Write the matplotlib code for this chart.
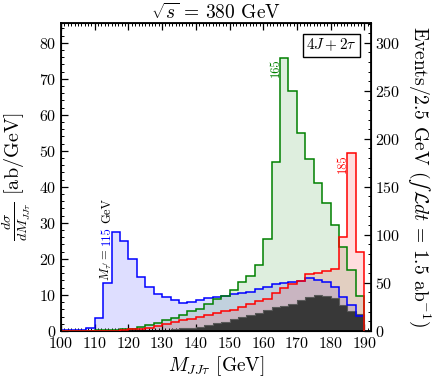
import numpy as np
import matplotlib
matplotlib.use("Agg")
import matplotlib.pyplot as plt
from matplotlib.ticker import MultipleLocator

plt.rcParams['font.family'] = 'cmr10'
plt.rcParams['mathtext.fontset'] = 'cm'
plt.rcParams['axes.formatter.use_mathtext'] = True

# bin edges, 2.5 GeV wide
edges = np.arange(100, 190.01, 2.5)

# dsigma/dM in ab/GeV, one value per bin (100 -> 190)
bkg = [0, 0, 0, 0, 0, 0, 0, 0.05, 0.1, 0.15, 0.2, 0.2,
       0.3, 0.5, 0.7, 0.9, 1.2, 1.6, 2.1, 2.5, 3.2, 3.8, 4.4, 5.1,
       5.7, 6.6, 7.0, 7.5, 8.6, 9.5, 10.0, 9.8, 9.0, 7.2, 5.5, 4.8]
sig115 = [0.3, 0.3, 0.3, 0.8, 3.5, 13.3, 27.5, 25.0, 20.0, 15.0, 12.3, 10.2,
          9.4, 8.5, 7.7, 7.9, 8.6, 9.1, 9.4, 9.6, 10.2, 10.6, 10.9, 11.6,
          12.3, 13.1, 13.2, 13.7, 13.8, 14.6, 14.2, 13.7, 12.1, 9.5, 7.2, 4.2]
sig165 = [0, 0, 0, 0, 0.2, 0.3, 0.3, 0.4, 0.6, 1.0, 1.7, 2.3,
          2.9, 3.5, 4.4, 5.4, 6.0, 7.5, 8.9, 9.8, 11.4, 13.5, 15.3, 18.3,
          25.6, 47.0, 75.8, 66.7, 54.9, 47.7, 41.0, 35.5, 29.4, 23.4, 16.8, 9.7]
sig185 = [0, 0, 0, 0, 0, 0, 0, 0.2, 0.4, 0.6, 0.9, 1.4,
          2.0, 2.4, 2.9, 3.3, 3.9, 4.4, 4.9, 5.4, 5.9, 6.7, 7.4, 8.2,
          8.9, 10.5, 12.0, 13.0, 13.9, 15.8, 16.2, 16.6, 17.1, 26.2, 49.3, 22.0]

ymax = 85.5
events_per_ab = 2.5 * 1.5  # Events/2.5 GeV for 1.5 ab^-1

fig = plt.figure(figsize=(4.36, 3.83), dpi=100)
ax = fig.add_axes([0.14, 0.136, 0.711, 0.804])

signals = [(sig115, 'blue'), (sig165, 'green'), (sig185, 'red')]
for vals, col in signals:
    ax.stairs(vals, edges, fill=True, color=col, alpha=0.13, lw=0, zorder=1)
ax.stairs(bkg, edges, fill=True, color='#383838', zorder=2)
ax.stairs(bkg, edges, color='#5a5a5a', lw=0.8, zorder=2.5)
for vals, col in signals:
    ax.stairs(vals, edges, color=col, lw=1.1, zorder=3)

ax.set_xlim(100, 192)
ax.set_ylim(0, ymax)
ax.xaxis.set_major_locator(MultipleLocator(10))
ax.xaxis.set_minor_locator(MultipleLocator(1))
ax.yaxis.set_major_locator(MultipleLocator(10))
ax.yaxis.set_minor_locator(MultipleLocator(2))
ax.tick_params(which='both', direction='in', top=True, right=False, labelsize=11.5)
ax.tick_params(which='major', length=5, width=0.9)
ax.tick_params(which='minor', length=2.5, width=0.7)
ax.tick_params(axis='x', pad=4)
for s in ax.spines.values():
    s.set_linewidth(1.3)

ax2 = ax.twinx()
ax2.set_ylim(0, ymax * events_per_ab)
ax2.yaxis.set_major_locator(MultipleLocator(50))
ax2.yaxis.set_minor_locator(MultipleLocator(10))
ax2.tick_params(which='both', direction='in', labelsize=11.5, pad=3)
ax2.tick_params(which='major', length=5, width=0.9)
ax2.tick_params(which='minor', length=2.5, width=0.7)

ax.set_xlabel(r'$M_{JJ\tau}$ [GeV]', fontsize=14, labelpad=2)
ax.set_ylabel(r'$\frac{d\sigma}{dM_{JJ\tau}}$ [ab/GeV]', fontsize=14.5, labelpad=4)
ax2.set_ylabel(r'Events/2.5 GeV $(∫\, \mathcal{L}dt$ = 1.5 ab$^{-1})$',
               fontsize=14, rotation=270, va='bottom', labelpad=3)
ax.set_title(r'$\sqrt{s}$ = 380 GeV', fontsize=14, pad=3)

ax.text(0.955, 0.955, r'$4J + 2\tau$', transform=ax.transAxes, ha='right', va='top',
        fontsize=11, bbox=dict(boxstyle='square,pad=0.2', fc='white', ec='black', lw=1.0),
        zorder=5)

# peak annotations, stacked along the rotated direction
t1 = ax.text(113.6, 13.8, r'$M_{\tau^{\prime}} =$', rotation=90, ha='center', va='bottom',
             fontsize=9, color='black', zorder=5)
t2 = ax.annotate('115', xy=(0.5, 1.0), xycoords=t1, xytext=(0, 2.5),
                 textcoords='offset points', rotation=90, ha='center', va='bottom',
                 fontsize=9, color='blue', zorder=5)
ax.annotate('GeV', xy=(0.5, 1.0), xycoords=t2, xytext=(0, 2.5),
            textcoords='offset points', rotation=90, ha='center', va='bottom',
            fontsize=9, color='black', zorder=5)
ax.text(163.7, 75.6, '165', rotation=90, ha='center', va='top', fontsize=9,
        color='green', zorder=5)
ax.text(183.7, 49.1, '185', rotation=90, ha='center', va='top', fontsize=9,
        color='red', zorder=5)

fig.savefig('out.png', dpi=100)
